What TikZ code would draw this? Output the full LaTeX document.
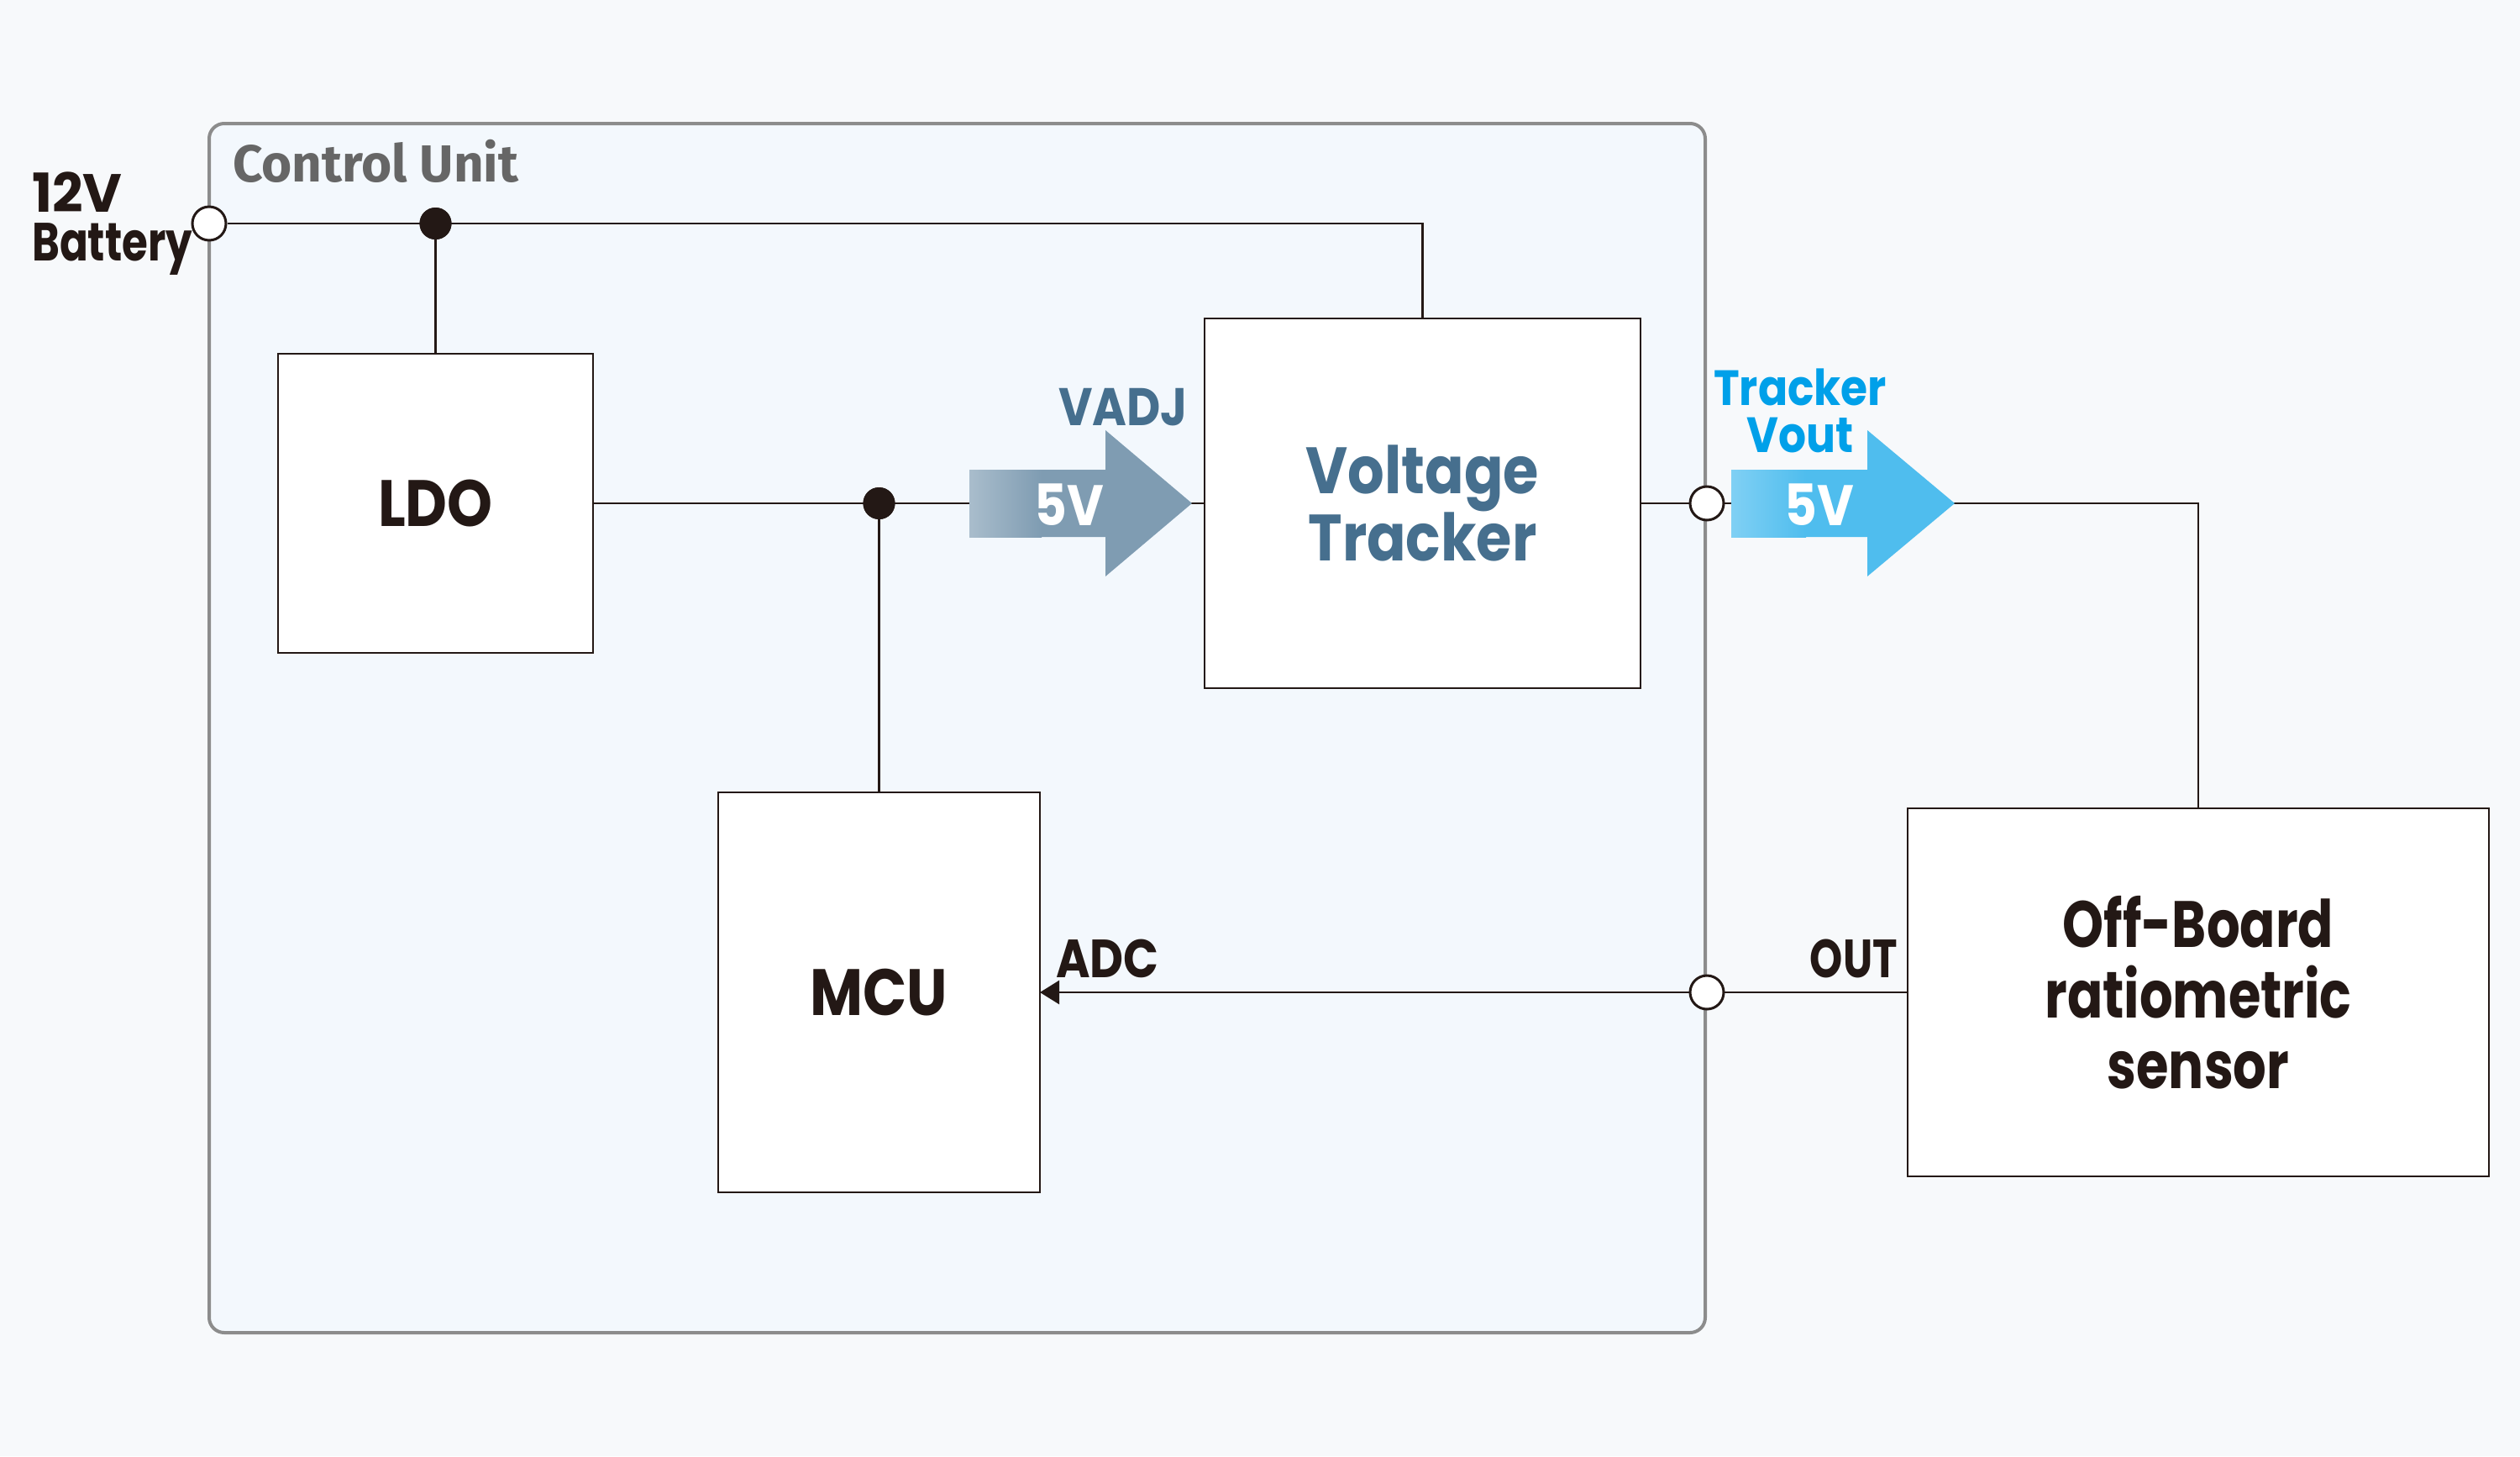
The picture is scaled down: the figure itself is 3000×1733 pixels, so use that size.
\documentclass[tikz,border=0pt]{standalone}
\usepackage{fontspec}
\newfontfamily\geo{Poppins}[FakeStretch=0.88]
\newfontfamily\geon{Poppins}[FakeStretch=0.80]
\newfontfamily\geoc{Poppins}[FakeStretch=0.78]
\newfontfamily\geoa{Poppins}[FakeStretch=0.86]
\newfontfamily\geow{Poppins}
\newfontfamily\cufont{Fira Sans}
\usetikzlibrary{arrows.meta}
\definecolor{ink}{HTML}{231815}
\definecolor{bgc}{HTML}{F7F9FB}
\definecolor{cufill}{HTML}{F3F8FD}
\definecolor{cuborder}{HTML}{8C8C8C}
\definecolor{cutext}{HTML}{666666}
\definecolor{trk}{HTML}{466F8E}
\definecolor{cyant}{HTML}{00A0E9}
\definecolor{aonemain}{HTML}{7F9CB2}
\definecolor{aonelight}{HTML}{A9BDCC}
\definecolor{atwomain}{HTML}{4FBDEE}
\definecolor{atwolight}{HTML}{80D0F4}
\begin{document}
\begin{tikzpicture}[x=1pt,y=-1pt,
  blk/.style={draw=ink, line width=2.4pt, fill=white, inner sep=0pt, outer sep=0pt,
    align=center, text=ink, font=\geo\bfseries\fontsize{78}{84}\selectfont},
  wire/.style={draw=ink, line width=2.6pt},
  opendot/.style={circle, draw=ink, line width=3pt, fill=white, minimum size=40pt, inner sep=0pt},
  fulldot/.style={circle, fill=ink, minimum size=38pt, inner sep=0pt},
  sig/.style={inner sep=0pt, font=\geoc\bfseries\fontsize{64}{58}\selectfont, text=ink},
  volt/.style={inner sep=0pt, text=white, font=\geo\bfseries\fontsize{68}{68}\selectfont},
]
\fill[bgc] (0,0) rectangle (3000,1733);
\useasboundingbox (0,0) rectangle (3000,1733);

% control unit frame
\node[draw=cuborder, fill=cufill, line width=4pt, rounded corners=18pt,
      minimum width=1781pt, minimum height=1439pt, inner sep=0pt] (cu) at (1139.5,866.5) {};
\node[anchor=base west, inner sep=0pt, text=cutext,
      font=\cufont\bfseries\fontsize{62}{70}\selectfont] (culabel) at (277,216) {Control Unit};

% blocks
\node[blk, minimum width=375pt, minimum height=356pt] (ldo) at (518.5,599) {LDO};
\node[blk, minimum width=519pt, minimum height=440pt, text=trk,
      font=\geo\bfseries\fontsize{78}{72}\selectfont] (tracker) at (1693.5,599) {Voltage\\Tracker};
\node[blk, minimum width=383pt, minimum height=476pt] (mcu) at (1046.5,1181) {MCU};
\node[blk, minimum width=692pt, minimum height=438pt,
      font=\geon\bfseries\fontsize{78}{84}\selectfont] (sensor) at (2617,1181) {Off-Board\\ratiometric\\sensor};

% terminals and junctions
\node[opendot] (bat) at (249,266) {};
\node[fulldot] (jone) at (518.5,266) {};
\node[fulldot] (jtwo) at (1046.5,599) {};
\coordinate (otwo) at (cu.east |- tracker.east);
\coordinate (othree) at (cu.east |- sensor.west);

% wires
\draw[wire] (bat.east) -- (bat -| tracker.north) -- (tracker.north);
\draw[wire] (jone) -- (ldo.north);
\draw[wire] (ldo.east) -- (tracker.west);
\draw[wire] (jtwo) -- (mcu.north);
\draw[wire] (tracker.east) -- (tracker.east -| sensor.north) -- (sensor.north);
\draw[wire, -{Triangle[length=23pt,width=28pt]}] (sensor.west) -- (mcu.east);

\node[fulldot] at (jone) {};
\node[fulldot] at (jtwo) {};
\node[opendot] (btwo) at (otwo) {};
\node[opendot] (bthree) at (othree) {};

% VADJ arrow
\fill[aonemain] (1154,559) -- (1316,559) -- (1316,512) -- (1419,599) -- (1316,686)
  -- (1316,639) -- (1154,639) -- cycle;
\shade[left color=aonelight, right color=aonemain] (1154,559) rectangle (1240,639);
\node[volt, anchor=base] (vone) at (1273,625) {5V};
\node[anchor=base east, inner sep=0pt, text=trk,
      font=\geo\bfseries\fontsize{63}{63}\selectfont] (vadj) at (1414,506) {VADJ};

% Tracker Vout arrow
\fill[atwomain] (2061,559) -- (2223,559) -- (2223,512) -- (2327,599) -- (2223,686)
  -- (2223,639) -- (2061,639) -- cycle;
\shade[left color=atwolight, right color=atwomain] (2061,559) rectangle (2150,639);
\node[volt, anchor=base] (vtwo) at (2166,625) {5V};
\node[anchor=south, inner sep=0pt, align=center, text=cyant,
      font=\geo\bfseries\fontsize{59}{56}\selectfont] (tvout) at (2143,539) {Tracker\\Vout};

% signal labels
\node[sig, anchor=north west, align=left] (batlabel) at (38,205) {{\geow\bfseries 12V}\\Battery};
\node[sig, anchor=base west, font=\geoa\bfseries\fontsize{64}{58}\selectfont] (adc) at (1257,1163) {ADC};
\node[sig, anchor=base east] (outl) at (2259,1163) {OUT};
\end{tikzpicture}
\end{document}
